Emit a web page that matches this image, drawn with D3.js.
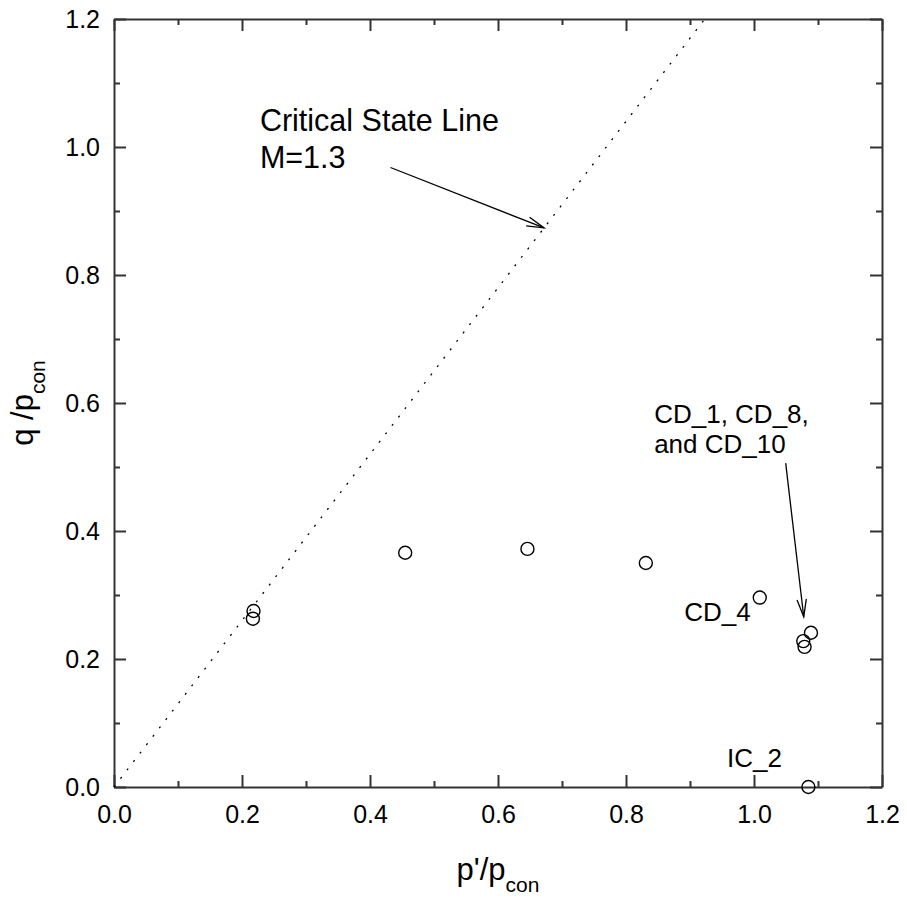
<!DOCTYPE html>
<html>
<head>
<meta charset="utf-8">
<script src="https://cdn.jsdelivr.net/npm/d3@7"></script>
<style>
  body { margin: 0; background: #fff; }
  text { font-family: "Liberation Sans", Arial, Helvetica, sans-serif; fill: #000; }
</style>
</head>
<body>
<svg id="chart" width="907" height="901"></svg>
<script>
// Normalised stress states at failure: p'/p_con and q/p_con
const pRatio = [0.218, 0.217, 0.455, 0.646, 0.831, 1.009, 1.089, 1.077, 1.079, 1.085];
const qRatio = [0.275, 0.263, 0.366, 0.372, 0.350, 0.296, 0.241, 0.228, 0.219, 0.000];

// Critical state line q = M p'
const cslSlope = 1.3;

// Axis ticks
const majorTicks = [0, 0.2, 0.4, 0.6, 0.8, 1.0, 1.2];
const minorTicks = [0.1, 0.3, 0.5, 0.7, 0.9, 1.1];
const tickLabels = ["0.0", "0.2", "0.4", "0.6", "0.8", "1.0", "1.2"];

// Text annotations (anchored at the first line's baseline, in data units)
const noteText = [["Critical State Line", "M=1.3"], ["CD_1, CD_8,", "and CD_10"], ["CD_4"], ["IC_2"]];
const noteP = [0.228, 0.844, 0.891, 0.958];
const noteQ = [1.025, 0.568, 0.259, 0.032];

// Leader arrows: start and tip, in data units
const arrowFrom = [[0.432, 0.968], [1.0495, 0.506]];
const arrowTo = [[0.672, 0.8736], [1.0777, 0.266]];

const margin = { left: 114, top: 19 };
const W = 768, H = 768;
const axisColor = "#333";

const svg = d3.select("#chart");
const g = svg.append("g").attr("transform", `translate(${margin.left},${margin.top})`);

const x = d3.scaleLinear().domain([0, 1.2]).range([0, W]);
const y = d3.scaleLinear().domain([0, 1.2]).range([H, 0]);
const fmt = d => tickLabels[majorTicks.findIndex(t => Math.abs(t - d) < 1e-9)];

function styleAxis(sel, fontSize) {
  sel.attr("font-family", null).attr("font-size", null);
  sel.selectAll("path.domain").attr("stroke", axisColor).attr("stroke-width", 2);
  sel.selectAll(".tick line").attr("stroke", axisColor).attr("stroke-width", 2);
  sel.selectAll(".tick text").style("font-size", fontSize + "px").attr("fill", "#000");
}

// Bottom & left axes with labels, ticks pointing inward
g.append("g").attr("transform", `translate(0,${H})`)
  .call(d3.axisBottom(x).tickValues(majorTicks).tickFormat(fmt).tickSizeInner(-12).tickSizeOuter(0).tickPadding(18))
  .call(s => styleAxis(s, 25));
g.append("g")
  .call(d3.axisLeft(y).tickValues(majorTicks).tickFormat(fmt).tickSizeInner(-12).tickSizeOuter(0).tickPadding(14))
  .call(s => styleAxis(s, 25));

// Top & right frame axes, no labels
g.append("g")
  .call(d3.axisTop(x).tickValues(majorTicks).tickFormat("").tickSizeInner(-12).tickSizeOuter(0))
  .call(s => styleAxis(s, 25));
g.append("g").attr("transform", `translate(${W},0)`)
  .call(d3.axisRight(y).tickValues(majorTicks).tickFormat("").tickSizeInner(-12).tickSizeOuter(0))
  .call(s => styleAxis(s, 25));

// Minor ticks on all four sides
[["b", d3.axisBottom(x), `translate(0,${H})`], ["t", d3.axisTop(x), null],
 ["l", d3.axisLeft(y), null], ["r", d3.axisRight(y), `translate(${W},0)`]].forEach(([k, ax, tr]) => {
  const mg = g.append("g");
  if (tr) mg.attr("transform", tr);
  mg.call(ax.tickValues(minorTicks).tickFormat("").tickSizeInner(-6).tickSizeOuter(0))
    .call(s => styleAxis(s, 25));
  mg.select("path.domain").remove();
});

// Critical state line (dotted)
const pEnd = 1.2 / cslSlope;
g.append("line")
  .attr("x1", x(0)).attr("y1", y(0))
  .attr("x2", x(pEnd)).attr("y2", y(cslSlope * pEnd))
  .attr("stroke", "#000").attr("stroke-width", 1.3)
  .attr("stroke-dasharray", "2,8.6");

// Data points: open circles
g.selectAll("circle.pt").data(pRatio.map((p, i) => [p, qRatio[i]]))
  .join("circle").attr("class", "pt")
  .attr("cx", d => x(d[0])).attr("cy", d => y(d[1])).attr("r", 6.5)
  .attr("fill", "none").attr("stroke", "#000").attr("stroke-width", 1.4);

// Leader arrows with open heads
arrowFrom.forEach((f, i) => {
  const t = arrowTo[i];
  const x1 = x(f[0]), y1 = y(f[1]), x2 = x(t[0]), y2 = y(t[1]);
  const ang = Math.atan2(y2 - y1, x2 - x1);
  const len = 18, spread = 15 * Math.PI / 180;
  const a = g.append("g").attr("stroke", "#000").attr("stroke-width", 1.3).attr("fill", "none");
  a.append("line").attr("x1", x1).attr("y1", y1).attr("x2", x2).attr("y2", y2);
  a.append("path").attr("d",
    `M${x2 - len * Math.cos(ang - spread)},${y2 - len * Math.sin(ang - spread)}` +
    `L${x2},${y2}` +
    `L${x2 - len * Math.cos(ang + spread)},${y2 - len * Math.sin(ang + spread)}`);
});

// Annotation text
const noteSize = [30.5, 26, 26, 26];
const noteLead = [37, 29.5, 0, 0];
noteText.forEach((lines, i) => {
  const t = g.append("text").attr("x", x(noteP[i])).attr("y", y(noteQ[i]))
    .style("font-size", noteSize[i] + "px");
  lines.forEach((ln, j) => {
    t.append("tspan").attr("x", x(noteP[i])).attr("dy", j === 0 ? 0 : noteLead[i]).text(ln);
  });
});

// Axis titles
const xt = svg.append("text")
  .attr("x", margin.left + W / 2).attr("y", 880)
  .attr("text-anchor", "middle").style("font-size", "31px");
xt.append("tspan").text("p'/p");
xt.append("tspan").attr("dy", 12).style("font-size", "21px").text("con");

const yt = svg.append("text")
  .attr("transform", `translate(33,${margin.top + H / 2}) rotate(-90)`)
  .attr("text-anchor", "middle").style("font-size", "31px");
yt.append("tspan").text("q /p");
yt.append("tspan").attr("dy", 12).style("font-size", "21px").text("con");
</script>
</body>
</html>
